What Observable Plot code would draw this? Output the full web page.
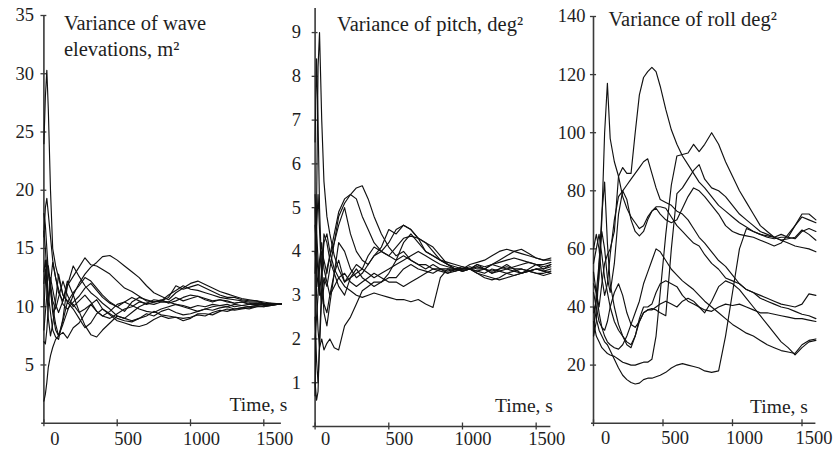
<!DOCTYPE html>
<html><head><meta charset="utf-8">
<script src="https://cdn.jsdelivr.net/npm/d3@7"></script>
<script src="https://cdn.jsdelivr.net/npm/@observablehq/plot@0.6"></script>
<style>
body{margin:0;background:#fff;}
#wrap{position:relative;width:834px;height:451px;overflow:hidden;background:#fff;}
#wrap svg{position:absolute;top:0;overflow:visible;}
#wrap svg text{font-family:"Liberation Serif","Times New Roman",serif;}
</style></head><body><div id="wrap"></div>
<script>
// ---------- Panel 1: variance of wave elevations, m^2 ----------
const waveTitle = "Variance of wave\nelevations, m²";
const waveTime = [0,10,20,30,45,60,80,100,130,160,200,240,280,320,360,400,450,500,550,600,650,700,750,800,850,900,950,1000,1050,1100,1150,1200,1250,1300,1350,1400,1450,1500,1550,1620];
const waveYTicks = [5,10,15,20,25,30,35];
const wave1 = [24,28,30.3,27,20,15,13.5,12.5,11,10.5,10.2,9.5,9.8,10.2,9.6,9.2,9.0,9.4,9.8,10.0,10.4,10.3,10.6,10.5,10.4,10.8,10.5,10.7,10.9,10.6,10.4,10.6,10.5,10.3,10.4,10.3,10.2,10.3,10.2,10.25];
const wave2 = [16,18.5,19.3,18,16,14,12.5,11.2,10.5,11.8,12.6,13.4,14.2,13.6,13.5,13.2,12.8,12.2,11.6,11.3,10.9,10.5,10.4,10.6,10.3,10.5,10.8,11.0,10.9,10.7,10.5,10.6,10.4,10.3,10.4,10.2,10.3,10.2,10.3,10.25];
const wave3 = [18,17,15,13,11.5,9.5,8,7.5,8.5,9.6,11,12,12.8,13.4,13.8,14.3,14.4,14.0,13.5,13.0,12.5,11.8,11.2,10.9,10.6,11.2,11.6,12.0,12.2,11.9,11.6,11.3,11.1,10.9,10.7,10.6,10.5,10.4,10.3,10.25];
const wave4 = [13,14,12,10.5,12,13.8,12.5,11.5,10.2,9.8,10.4,10.9,11.6,12.0,11.4,10.8,10.3,10.0,10.4,10.8,10.5,10.2,10.4,10.5,10.8,11.8,11.5,11.7,11.9,11.6,11.3,11.0,10.8,10.8,10.6,10.5,10.5,10.3,10.2,10.25];
const wave5 = [7,6.8,8,10,12.5,11.5,10.2,9.5,10.5,12.2,11.0,9.6,8.4,7.6,7.4,8.0,8.6,9.2,9.0,8.8,9.0,9.4,9.2,9.6,9.8,9.5,9.3,9.4,9.6,9.8,9.7,9.9,10.0,9.8,9.9,10.0,10.1,10.0,10.1,10.25];
const wave6 = [1.9,2.5,3.5,4.8,5.8,6.5,7.2,7.5,7.8,7.3,8.2,8.6,9.4,10.2,10.6,9.8,9.4,9.0,8.8,8.7,9.0,9.2,9.6,9.3,9.2,9.1,9.0,9.1,9.3,9.2,9.5,9.7,9.6,9.8,9.9,9.8,10.0,10.1,10.1,10.25];
const wave7 = [10,12,14,13,11.5,10,8.5,7.5,8.8,10.4,9.8,9.0,8.2,8.6,9.4,9.8,9.3,8.8,8.6,8.4,8.3,8.5,8.9,9.2,9.0,9.1,8.8,9.0,9.4,9.4,9.3,9.6,9.8,9.7,9.8,9.9,10.0,10.0,10.1,10.25];
const wave8 = [16.5,15,13,11,9.5,8,7.4,7.2,9.0,11.8,13.5,12.6,11.8,11.2,10.8,10.3,9.8,9.2,9.0,9.5,10.0,10.3,10.2,10.4,10.4,10.2,10.0,9.8,9.6,9.8,10.0,10.1,10.0,10.2,10.1,10.0,10.1,10.2,10.2,10.25];
const wave9 = [12,13.2,11.5,9,7.5,8.5,10.5,12.8,11.0,10.4,11.2,11.8,12.5,12.2,11.6,11.0,10.4,10.0,9.6,10.4,10.8,10.6,10.4,10.5,11.0,11.4,11.8,11.5,11.4,11.2,11.0,10.8,10.7,10.6,10.5,10.4,10.4,10.3,10.3,10.25];
const wave10 = [8,9.5,11,13.5,12,10.5,9.8,10.8,12.2,11.0,10.0,10.5,11.0,10.4,9.6,9.2,9.6,10.2,10.4,10.1,9.8,9.6,9.5,9.8,10.0,10.2,10.1,9.9,10.1,10.0,10.2,10.1,10.2,10.0,10.1,10.2,10.2,10.2,10.25,10.25];

// ---------- Panel 2: variance of pitch, deg^2 ----------
const pitchTitle = "Variance of pitch, deg²";
const pitchTime = [0,10,20,30,45,60,80,100,130,160,200,240,280,320,360,400,450,500,550,600,650,700,750,800,850,900,950,1000,1050,1100,1150,1200,1250,1300,1350,1400,1450,1500,1550,1600];
const pitchYTicks = [1,2,3,4,5,6,7,8,9];
const pitch1 = [0.7,5.0,8.2,9.0,7.0,5.6,4.8,4.4,3.9,3.6,3.3,3.5,3.7,3.6,3.9,4.1,4.0,3.9,3.8,3.9,3.8,3.7,3.6,3.7,3.6,3.5,3.6,3.6,3.6,3.7,3.6,3.5,3.6,3.7,3.6,3.5,3.6,3.7,3.6,3.7];
const pitch2 = [6.5,8.4,7.0,5.0,3.5,2.6,2.3,2.8,3.5,4.2,4.0,3.6,3.4,3.5,3.7,3.9,4.0,4.2,4.5,4.6,4.5,4.3,4.0,3.9,3.8,3.7,3.6,3.55,3.6,3.65,3.6,3.7,3.8,3.9,4.0,4.05,3.95,3.85,3.8,3.85];
const pitch3 = [2.5,1.5,1.0,1.8,3.0,3.4,3.2,3.6,4.2,4.8,5.1,5.3,5.45,5.5,5.2,4.8,4.4,4.1,3.9,4.0,3.8,3.7,3.7,3.6,3.6,3.55,3.6,3.6,3.65,3.6,3.6,3.55,3.6,3.65,3.6,3.6,3.55,3.6,3.55,3.5];
const pitch4 = [5.0,3.0,2.2,1.8,2.0,1.75,1.9,2.0,1.8,1.75,2.3,2.5,2.8,3.1,3.2,3.3,3.3,3.4,3.4,3.6,3.7,3.6,3.55,3.5,3.6,3.6,3.55,3.6,3.6,3.5,3.4,3.35,3.4,3.5,3.55,3.6,3.55,3.5,3.45,3.5];
const pitch5 = [4.0,3.6,3.2,3.8,4.2,3.6,3.3,3.0,3.2,3.4,3.2,3.1,3.0,2.95,3.0,3.05,3.0,2.95,2.9,2.9,2.85,2.9,2.8,2.72,3.4,3.6,3.6,3.55,3.6,3.5,3.45,3.4,3.35,3.4,3.45,3.5,3.55,3.5,3.5,3.55];
const pitch6 = [5.3,4.5,3.8,3.2,2.8,3.2,3.6,3.9,4.2,4.6,5.0,4.4,4.0,3.8,3.7,3.9,4.1,4.5,4.4,4.6,4.5,4.3,4.2,4.1,3.9,3.7,3.65,3.6,3.7,3.75,3.8,3.9,4.0,4.05,4.0,3.95,3.9,3.85,3.8,3.8];
const pitch7 = [2.0,2.5,3.0,3.6,4.0,3.8,3.5,3.9,4.4,4.9,5.2,5.3,5.2,4.8,4.5,4.2,4.0,3.9,4.1,4.3,4.35,4.3,4.2,4.0,3.8,3.7,3.6,3.65,3.6,3.7,3.65,3.7,3.75,3.8,3.85,3.8,3.75,3.7,3.7,3.75];
const pitch8 = [3.5,4.5,5.3,4.5,3.4,2.8,2.6,3.0,3.5,3.8,3.3,3.4,3.5,3.6,3.5,3.4,3.5,3.6,3.7,3.8,3.9,4.0,3.9,3.8,3.7,3.65,3.6,3.55,3.6,3.65,3.6,3.7,3.65,3.6,3.65,3.7,3.75,3.7,3.65,3.7];
const pitch9 = [1.0,0.6,0.8,2.0,3.2,4.4,4.2,3.8,3.5,3.2,3.0,3.4,3.6,3.4,3.3,3.2,3.3,3.5,3.8,4.2,4.4,4.2,4.0,3.9,3.8,3.75,3.7,3.65,3.6,3.55,3.6,3.5,3.55,3.6,3.55,3.5,3.55,3.6,3.6,3.65];
const pitch10 = [4.6,4.0,3.5,3.0,3.6,4.2,4.4,4.0,3.6,3.4,3.5,3.3,3.2,3.3,3.4,3.5,3.4,3.3,3.3,3.2,3.3,3.4,3.5,3.6,3.55,3.5,3.55,3.6,3.6,3.55,3.5,3.6,3.55,3.5,3.45,3.5,3.55,3.6,3.55,3.6];

// ---------- Panel 3: variance of roll, deg^2 ----------
const rollTitle = "Variance of roll deg²";
const rollTime = [0,20,40,60,80,100,120,150,180,210,240,270,300,330,360,390,420,450,480,520,560,600,640,680,720,760,800,850,900,950,1000,1050,1100,1150,1200,1250,1300,1350,1400,1450,1500,1550,1600];
const rollYTicks = [20,40,60,80,100,120,140];
const roll1 = [38,42,50,70,100,117,98,90,85,78,74,71,69,67,68,71,73,74.5,74.5,74,71,68,66,64,62,61,58,55,53,50,49,48,46,45,43,42,41,40,39.5,38.5,37.5,37,36];
const roll2 = [52,45,40,48,55,58,60,66,85,88,86,86,100,113,119,121,122.5,121,116,108,101,96,92,89,86,83,81,78,75,73,71,69,67.5,66,65,64.5,64,65,64,63.5,66,67,66];
const roll3 = [30,35,55,66,60,50,45,55,72,80,82,84,86,88,90,91,86,81,77,76,75,73,72,70,67,64,62,59,56,54,51,48,46,45,44,43,42,41,40.5,40,41,44.5,44];
const roll4 = [35,30,28,26,25,24,23.5,23,22,21,20.5,20,20,20.5,21,21,22,30,45,65,82,92,92.5,93,96,93.5,96,100,96,90,85,80,76,72,68,66,64,63,62,61,60.5,60,59];
const roll5 = [45,40,35,33,32,35,40,45,48,44,38,34,33,35,38,39,39.5,39,38,37,60,79,81,84,87,89,84,81,80,78,75,72,70,68,66,65,64,63,63.5,64,66.5,65,63];
const roll6 = [48,45,38,33,30,28,27,26,25.5,27,30,34,38,42,48,52,56,60,59,56,53,51,49,47.5,46,44,42,40,38,36,34,32.5,31,30,28.5,27,26,25,24.5,24,27,28.5,29];
const roll7 = [40,36,32,30,28,27,25,22,19,16.5,15,14,13.5,13.8,15,15.5,15.5,16,16.5,17.5,19,20,20.5,20,19.5,19,18,17.5,18,30,45,60,67,66,65,64,63.5,64,64,68,72,72,70];
const roll8 = [55,60,65,58,50,45,40,35,32,30,28,27,30,36,40,40,41,45,48,49,48,47,44,42,41,40,38,42,47,49,48,46,43,40,37,34,31,28,26,23.5,26,28,28.5];
const roll9 = [60,65,60,50,44,48,58,70,78,80,77,70,66,64.5,66,70,73,74,72,70,69,70,74,78,81,80,78,75,72,68,66,65,64.5,64,63,62,61,62,65,68,71,70,69];
const roll10 = [30,45,55,72,83,62,48,40,34,30,27,26,30,35,38,39,39,40,41,42,41,40,42,43,42,40,39,38.5,40,41,40.5,41,40,39,38,38,37.5,37,36.5,36,36,35.5,35];

const xTicks = [0,500,1000,1500];

const wrap = document.getElementById("wrap");
const FONT = "Liberation Serif";
const AX = "#3a3a3a";
const INK = "#1e1e1e";

function makePanel(c) {
  const data = c.series.flatMap((vals, i) => vals.map((v, j) => ({t: c.time[j], v, s: i})));
  const fmt = d => String(d);
  const plot = Plot.plot({
    width: c.width, height: 451,
    marginLeft: c.ml, marginRight: c.mr, marginTop: c.mt, marginBottom: c.mb,
    style: {fontFamily: FONT, fontSize: "18px", background: "transparent", overflow: "visible", color: INK},
    x: {domain: [0, c.xMax]},
    y: {domain: c.yDomain},
    marks: [
      Plot.ruleY([0], {x1: -c.xOver, x2: c.xMax, stroke: AX, strokeWidth: 1.6}),
      Plot.ruleX([0], {y1: 0, y2: c.yDomain[1], stroke: AX, strokeWidth: 1.6}),
      Plot.ruleY(c.yTicks, {x1: -c.yTickHalf, x2: c.yTickHalf, stroke: AX, strokeWidth: 1.3}),
      Plot.ruleX(xTicks, {y1: -c.xTickHalf, y2: c.xTickHalf, stroke: AX, strokeWidth: 1.3}),
      Plot.axisY({ticks: c.yTicks, tickSize: 0, tickPadding: c.yPad, tickFormat: fmt, label: null, fontSize: 18.5, fontFamily: FONT}),
      Plot.axisX({ticks: xTicks, tickSize: 0, tickPadding: c.xPad, tickFormat: fmt, label: null, fontSize: 18.5, fontFamily: FONT, dx: c.xLabelDx}),
      Plot.line(data, {x: "t", y: "v", z: "s", stroke: "#111", strokeWidth: 1.15, strokeLinejoin: "round"}),
      Plot.text([c.title], {text: d => d, frameAnchor: "top-left", textAnchor: "start", lineAnchor: "top", dx: c.titleDx, dy: c.titleDy, fontSize: 20.5, fontFamily: FONT, lineHeight: 1.28, fill: INK}),
      Plot.text(["Time, s"], {text: d => d, frameAnchor: "bottom-right", textAnchor: "end", lineAnchor: "bottom", dx: c.timeDx, dy: c.timeDy, fontSize: 19.5, fontFamily: FONT, fill: INK})
    ]
  });
  plot.style.left = c.left + "px";
  wrap.appendChild(plot);
}

makePanel({
  title: waveTitle, time: waveTime,
  series: [wave1, wave2, wave3, wave4, wave5, wave6, wave7, wave8, wave9, wave10],
  yTicks: waveYTicks, yDomain: [0, 35], xMax: 1620,
  left: 0, width: 290, ml: 43.4, mr: 9.1, mt: 15, mb: 28.3,
  xOver: 15, yTickHalf: 20, xTickHalf: 0.3, yPad: 10, xPad: 9, xLabelDx: 11,
  titleDx: 20, titleDy: -4, timeDx: 6, timeDy: -12
});
makePanel({
  title: pitchTitle, time: pitchTime,
  series: [pitch1, pitch2, pitch3, pitch4, pitch5, pitch6, pitch7, pitch8, pitch9, pitch10],
  yTicks: pitchYTicks, yDomain: [0, 9.55], xMax: 1600,
  left: 290, width: 270, ml: 24.6, mr: 9.6, mt: 8, mb: 25,
  xOver: 14, yTickHalf: 20, xTickHalf: 0.08, yPad: 14, xPad: 5, xLabelDx: 10.5,
  titleDx: 22, titleDy: 4, timeDx: 2, timeDy: -15
});
makePanel({
  title: rollTitle, time: rollTime,
  series: [roll1, roll2, roll3, roll4, roll5, roll6, roll7, roll8, roll9, roll10],
  yTicks: rollYTicks, yDomain: [0, 140], xMax: 1600,
  left: 560, width: 274, ml: 33, mr: 18.6, mt: 16, mb: 28.3,
  xOver: 14, yTickHalf: 22, xTickHalf: 1.2, yPad: 8, xPad: 8, xLabelDx: 12,
  titleDx: 15, titleDy: -9, timeDx: -8, timeDy: -10
});
</script></body></html>
